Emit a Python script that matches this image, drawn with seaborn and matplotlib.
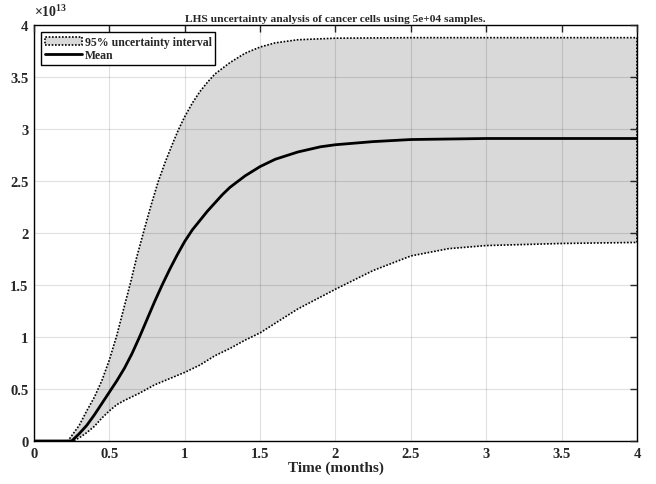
import numpy as np
import pandas as pd
import matplotlib
matplotlib.use("Agg")
import matplotlib.pyplot as plt
from matplotlib.patches import Patch
from matplotlib.lines import Line2D
from matplotlib.ticker import FuncFormatter
import seaborn as sns

# values (cells, in units of 1e13)
mean_t = [0, 0.25, 0.3, 0.35, 0.4, 0.45, 0.5, 0.55, 0.6, 0.65, 0.7, 0.75, 0.8, 0.85, 0.9, 0.95,
          1.0, 1.05, 1.1, 1.15, 1.2, 1.25, 1.3, 1.4, 1.5, 1.6, 1.75, 1.9, 2.0, 2.25, 2.5, 2.75, 3.0, 3.5, 4.0]
mean_c = [0, 0, 0.07, 0.15, 0.25, 0.36, 0.47, 0.58, 0.7, 0.84, 1.0, 1.17, 1.34, 1.5, 1.65, 1.79,
          1.92, 2.03, 2.12, 2.21, 2.29, 2.37, 2.44, 2.55, 2.64, 2.71, 2.78, 2.83, 2.85, 2.88, 2.9, 2.905, 2.91, 2.91, 2.91]

upper_t = [0, 0.225, 0.26, 0.3, 0.35, 0.4, 0.45, 0.5, 0.55, 0.6, 0.64, 0.68, 0.725, 0.775, 0.825,
           0.875, 0.925, 0.96, 1.0, 1.05, 1.1, 1.15, 1.2, 1.3, 1.4, 1.5, 1.6, 1.75, 2.0, 2.5, 3.0, 4.0]
upper_c = [0, 0, 0.07, 0.15, 0.29, 0.42, 0.58, 0.78, 1.02, 1.3, 1.52, 1.76, 2.0, 2.26, 2.5,
           2.7, 2.88, 3.0, 3.12, 3.25, 3.36, 3.45, 3.53, 3.64, 3.73, 3.79, 3.83, 3.86, 3.875, 3.88, 3.88, 3.88]

lower_t = [0, 0.26, 0.3, 0.35, 0.4, 0.45, 0.5, 0.55, 0.6, 0.7, 0.8, 0.9, 1.0, 1.1, 1.2, 1.3,
           1.4, 1.5, 1.63, 1.75, 2.0, 2.25, 2.5, 2.75, 3.0, 3.5, 4.0]
lower_c = [0, 0, 0.03, 0.08, 0.14, 0.22, 0.29, 0.35, 0.39, 0.46, 0.54, 0.6, 0.66, 0.73, 0.82, 0.89,
           0.97, 1.04, 1.16, 1.27, 1.46, 1.64, 1.78, 1.85, 1.88, 1.9, 1.91]

scale = 1e13
title = "LHS uncertainty analysis of cancer cells using 5e+04 samples."

sns.set_style("white")
plt.rcParams["font.family"] = ["Liberation Serif", "DejaVu Serif"]
plt.rcParams["font.weight"] = "bold"
plt.rcParams["mathtext.fontset"] = "custom"
plt.rcParams["mathtext.rm"] = "Liberation Serif:bold"
plt.rcParams["mathtext.bf"] = "Liberation Serif:bold"

fig = plt.figure(figsize=(6.56, 4.85), dpi=100)
ax = fig.add_axes([0.0518, 0.0887, 0.9192, 0.8573])

# band polygon: upper curve forward, lower curve back
poly_t = list(upper_t) + list(lower_t[::-1])
poly_c = [v * scale for v in upper_c] + [v * scale for v in lower_c[::-1]]
ax.fill(poly_t, poly_c, facecolor="#d9d9d9", edgecolor="black", linestyle=(0, (1, 1)),
        linewidth=1.2, zorder=1)

df = pd.DataFrame({"t": mean_t, "c": [v * scale for v in mean_c]})
sns.lineplot(data=df, x="t", y="c", color="black", linewidth=2, ax=ax, zorder=3)

ax.set_xlim(0, 4)
ax.set_ylim(0, 4 * scale)
ax.set_xticks(np.arange(0, 4.01, 0.5))
ax.set_yticks(np.arange(0, 4.01, 0.5) * scale)
ax.xaxis.set_major_formatter(FuncFormatter(lambda v, p: f"{v:g}"))
ax.yaxis.set_major_formatter(FuncFormatter(lambda v, p: f"{v / scale:g}"))
ax.tick_params(direction="in", length=5, width=1, top=True, right=True, labelsize=10.5, pad=4)
for lab in ax.get_xticklabels() + ax.get_yticklabels():
    lab.set_fontweight("bold")

ax.set_axisbelow(False)
ax.grid(True, color="black", alpha=0.12, linewidth=0.8)
for s in ax.spines.values():
    s.set_color("black")
    s.set_linewidth(1)

ax.set_title(title, fontsize=8.2, fontweight="bold", pad=3)
ax.set_xlabel("Time (months)", fontsize=11, fontweight="bold", labelpad=1)
ax.set_ylabel("c", fontsize=11, fontweight="bold")
ax.yaxis.set_label_coords(-0.054, 0.5)
fig.text(0.0518, 0.958, r"$\times 10^{13}$", fontsize=10, ha="left", va="bottom")

handles = [Patch(facecolor="#d9d9d9", edgecolor="black", linestyle=(0, (1, 1)), linewidth=1.2),
           Line2D([], [], color="black", linewidth=2)]
leg = ax.legend(handles, ["95% uncertainty interval", "Mean"], loc="upper left",
                prop={"family": "Liberation Serif", "weight": "bold", "size": 8.5},
                fancybox=False, edgecolor="black", framealpha=1, borderpad=0.3,
                labelspacing=0.1, handlelength=3.2, handletextpad=0.2,
                borderaxespad=0.6)
leg.get_frame().set_linewidth(1)

fig.savefig("out.png", dpi=100)
